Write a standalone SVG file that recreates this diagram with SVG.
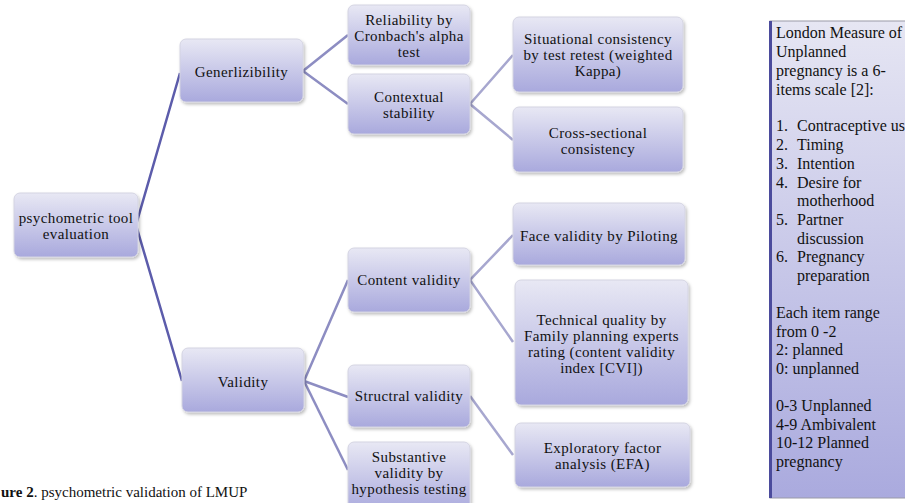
<svg xmlns="http://www.w3.org/2000/svg" width="905" height="503" viewBox="0 0 905 503">
<defs>
<linearGradient id="g" x1="0" y1="0" x2="0" y2="1">
<stop offset="0" stop-color="#e8e8f4"/>
<stop offset="1" stop-color="#a9a9dd"/>
</linearGradient>
<linearGradient id="gb" x1="0" y1="0" x2="0" y2="1">
<stop offset="0" stop-color="#e6e6f3"/>
<stop offset="1" stop-color="#aaaade"/>
</linearGradient>
<filter id="sh" x="-10%" y="-10%" width="130%" height="130%">
<feDropShadow dx="1.5" dy="2" stdDeviation="1.5" flood-color="#000" flood-opacity="0.25"/>
</filter>
</defs>
<style>
.n{fill:url(#g);stroke:#d4d4e2;stroke-width:1;filter:url(#sh)}
.t{font-family:"Liberation Serif","Times New Roman",serif;font-size:15px;letter-spacing:0.4px;fill:#111;text-anchor:middle}
.r{font-family:"Liberation Serif","Times New Roman",serif;font-size:16px;fill:#111}
.c1{stroke:#5c5cab;stroke-width:2.5;fill:none}
.c2{stroke:#8d8dc2;stroke-width:2.5;fill:none}
.c3{stroke:#a7a7cf;stroke-width:2.5;fill:none}
</style>
<rect width="905" height="503" fill="#fff"/>
<g id="connectors">
<polyline class="c1" points="180,73 136,225 182,381"/>
<polyline class="c2" points="348,35 303,71 348,104"/>
<polyline class="c3" points="513,55 470,104 513,140"/>
<polyline class="c2" points="348,280 304,381 348,397"/>
<line class="c2" x1="304" y1="381" x2="348" y2="470"/>
<polyline class="c3" points="513,235 470,280 513,342"/>
<line class="c3" x1="470" y1="396" x2="513" y2="455"/>
</g>
<g id="root"><rect class="n" x="14" y="193" width="124" height="64" rx="6"/>
<text class="t" x="76" y="223">psychometric tool</text><text class="t" x="76" y="239">evaluation</text></g>
<g id="generlizibility"><rect class="n" x="180" y="39" width="123" height="63" rx="6"/>
<text class="t" x="241.5" y="77">Generlizibility</text></g>
<g id="reliability"><rect class="n" x="348" y="5" width="122" height="60" rx="6"/>
<text class="t" x="409" y="25">Reliability by</text><text class="t" x="409" y="41">Cronbach's alpha</text><text class="t" x="409" y="57">test</text></g>
<g id="contextual"><rect class="n" x="348" y="74" width="122" height="60" rx="6"/>
<text class="t" x="409" y="102">Contextual</text><text class="t" x="409" y="118">stability</text></g>
<g id="situational"><rect class="n" x="513" y="17" width="170" height="75" rx="6"/>
<text class="t" x="598" y="44">Situational consistency</text><text class="t" x="598" y="60">by test retest (weighted</text><text class="t" x="598" y="76">Kappa)</text></g>
<g id="crosssectional"><rect class="n" x="513" y="107" width="170" height="65" rx="6"/>
<text class="t" x="598" y="138">Cross-sectional</text><text class="t" x="598" y="154">consistency</text></g>
<g id="validity"><rect class="n" x="182" y="348" width="122" height="64" rx="6"/>
<text class="t" x="243" y="387">Validity</text></g>
<g id="content"><rect class="n" x="348" y="248" width="122" height="64" rx="6"/>
<text class="t" x="409" y="285">Content validity</text></g>
<g id="structral"><rect class="n" x="348" y="365" width="122" height="62" rx="6"/>
<text class="t" x="409" y="401">Structral validity</text></g>
<g id="substantive"><rect class="n" x="348" y="442" width="122" height="70" rx="6"/>
<text class="t" x="409" y="462">Substantive</text><text class="t" x="409" y="478">validity by</text><text class="t" x="409" y="494">hypothesis testing</text></g>
<g id="face"><rect class="n" x="513" y="203" width="172" height="62" rx="6"/>
<text class="t" x="599" y="241">Face validity by Piloting</text></g>
<g id="technical"><rect class="n" x="515" y="280" width="173" height="125" rx="6"/>
<text class="t" x="601.5" y="325">Technical quality by</text><text class="t" x="601.5" y="341">Family planning experts</text><text class="t" x="601.5" y="357">rating (content validity</text><text class="t" x="601.5" y="373">index [CVI])</text></g>
<g id="efa"><rect class="n" x="515" y="423" width="175" height="64" rx="6"/>
<text class="t" x="602.5" y="453">Exploratory factor</text><text class="t" x="602.5" y="469">analysis (EFA)</text></g>
<g id="lmup">
<rect x="770" y="21" width="140" height="477" fill="url(#gb)" stroke="#9a9aa8" stroke-width="1"/>
<line x1="770.5" y1="21" x2="770.5" y2="498" stroke="#4b4b9c" stroke-width="3"/>
<text class="r" x="776" y="38">London Measure of</text>
<text class="r" x="776" y="57">Unplanned</text>
<text class="r" x="776" y="76">pregnancy is a 6-</text>
<text class="r" x="776" y="95">items scale [2]:</text>
<text class="r" x="776" y="131">1.</text><text class="r" x="797" y="131">Contraceptive us</text>
<text class="r" x="776" y="150">2.</text><text class="r" x="797" y="150">Timing</text>
<text class="r" x="776" y="169">3.</text><text class="r" x="797" y="169">Intention</text>
<text class="r" x="776" y="188">4.</text><text class="r" x="797" y="188">Desire for</text>
<text class="r" x="797" y="206">motherhood</text>
<text class="r" x="776" y="225">5.</text><text class="r" x="797" y="225">Partner</text>
<text class="r" x="797" y="244">discussion</text>
<text class="r" x="776" y="262">6.</text><text class="r" x="797" y="262">Pregnancy</text>
<text class="r" x="797" y="281">preparation</text>
<text class="r" x="776" y="318">Each item range</text>
<text class="r" x="776" y="337">from 0 -2</text>
<text class="r" x="776" y="355">2: planned</text>
<text class="r" x="776" y="374">0: unplanned</text>
<text class="r" x="776" y="411">0-3 Unplanned</text>
<text class="r" x="776" y="430">4-9 Ambivalent</text>
<text class="r" x="776" y="448">10-12 Planned</text>
<text class="r" x="776" y="467">pregnancy</text>
</g>
<text x="1" y="497" font-family="'Liberation Serif','Times New Roman',serif" font-size="15" fill="#111"><tspan font-weight="bold">ure 2</tspan>. psychometric validation of LMUP</text>
</svg>
